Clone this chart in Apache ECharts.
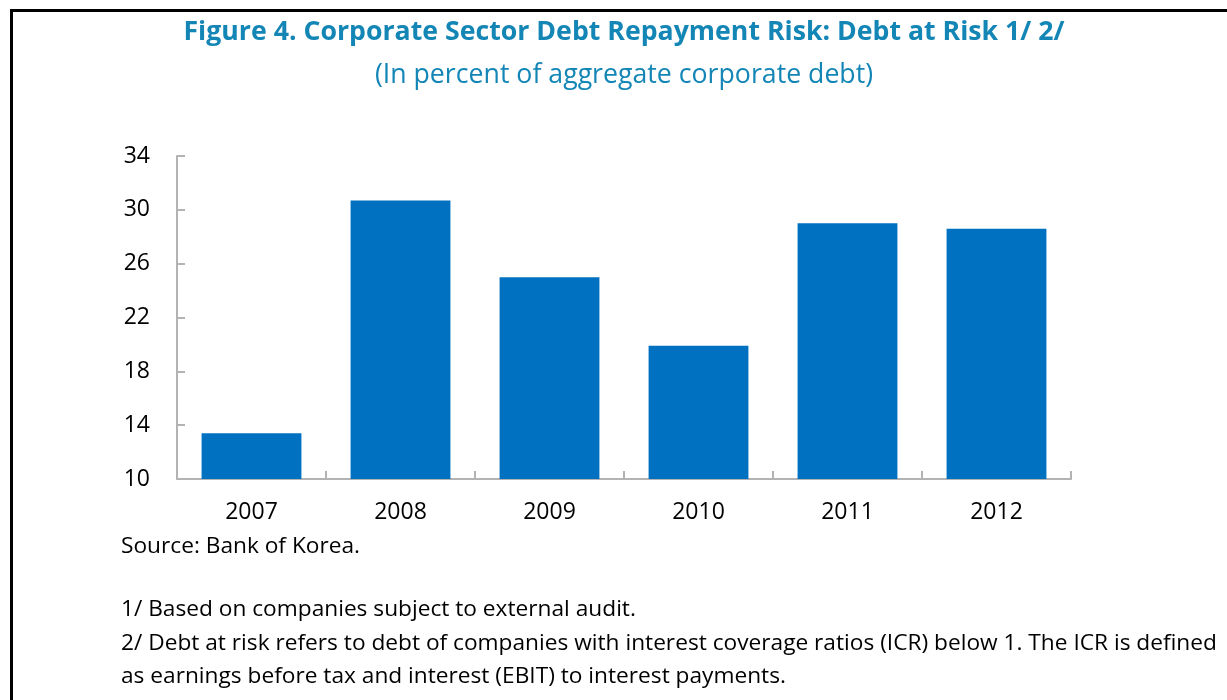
<!DOCTYPE html>
<html>
<head>
<meta charset="utf-8">
<style>
  html, body { margin: 0; padding: 0; background: #ffffff; }
  #chart { width: 1227px; height: 700px; }
</style>
<script src="https://cdn.jsdelivr.net/npm/echarts@6/dist/echarts.min.js"></script>
</head>
<body>
<div id="chart"></div>
<script>
// Debt at risk, in percent of aggregate corporate debt
const years = ['2007', '2008', '2009', '2010', '2011', '2012'];
const debtAtRisk = [13.4, 30.7, 25.0, 19.9, 29.0, 28.6];
const yTicks = { min: 10, max: 34, step: 4 };

const titleText = 'Figure 4. Corporate Sector Debt Repayment Risk: Debt at Risk 1/ 2/';
const subtitleText = '(In percent of aggregate corporate debt)';
const sourceText = 'Source: Bank of Korea.';
const noteLines = [
  '1/ Based on companies subject to external audit.',
  '2/ Debt at risk refers to debt of companies with interest coverage ratios (ICR) below 1. The ICR is defined',
  'as earnings before tax and interest (EBIT) to interest payments.'
];

const FONT = '"Open Sans", "Noto Sans", sans-serif';
const TITLE_COLOR = '#1386b6';
const AXIS_COLOR = '#b3b3b3';
const TITLE_CENTER_X = 624;

const chart = echarts.init(document.getElementById('chart'), null, { renderer: 'canvas' });

const notes = [
  { text: sourceText, top: 535 },
  { text: noteLines[0], top: 598 },
  { text: noteLines[1], top: 632 },
  { text: noteLines[2], top: 665 }
].map(n => ({
  type: 'text',
  left: 121,
  top: n.top,
  style: { text: n.text, fill: '#000000', font: '22.7px ' + FONT }
}));

chart.setOption({
  animation: false,
  backgroundColor: '#ffffff',
  title: [
    {
      text: titleText,
      left: TITLE_CENTER_X,
      textAlign: 'center',
      padding: 0,
      top: 19,
      textStyle: { color: TITLE_COLOR, fontFamily: FONT, fontWeight: 'bold', fontSize: 26.7 }
    },
    {
      text: subtitleText,
      left: TITLE_CENTER_X,
      textAlign: 'center',
      padding: 0,
      top: 62,
      textStyle: { color: TITLE_COLOR, fontFamily: FONT, fontWeight: 'normal', fontSize: 26.7 }
    }
  ],
  grid: { left: 177, right: 156, top: 156, bottom: 221, containLabel: false },
  xAxis: {
    type: 'category',
    data: years,
    axisLine: { lineStyle: { color: AXIS_COLOR, width: 2 } },
    axisTick: { show: true, inside: true, length: 8, lineStyle: { color: AXIS_COLOR, width: 2 } },
    axisLabel: { color: '#000000', fontFamily: FONT, fontSize: 23, margin: 22 }
  },
  yAxis: {
    type: 'value',
    min: yTicks.min,
    max: yTicks.max,
    interval: yTicks.step,
    axisLine: { show: true, lineStyle: { color: AXIS_COLOR, width: 2 } },
    axisTick: { show: true, inside: true, length: 8, lineStyle: { color: AXIS_COLOR, width: 2 } },
    axisLabel: { color: '#000000', fontFamily: FONT, fontSize: 23, margin: 27 },
    splitLine: { show: false }
  },
  series: [
    {
      type: 'bar',
      data: debtAtRisk,
      barCategoryGap: '33%',
      itemStyle: { color: '#0070c0' }
    }
  ],
  graphic: [
    {
      type: 'rect',
      shape: { x: 11.5, y: 10.5, width: 1400, height: 900 },
      style: { fill: 'none', stroke: '#000000', lineWidth: 3 },
      silent: true
    }
  ].concat(notes)
});
</script>
</body>
</html>
